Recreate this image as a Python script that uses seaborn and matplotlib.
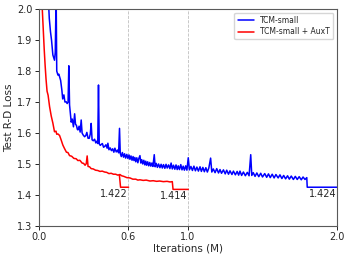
import numpy as np
import pandas as pd
import seaborn as sns
import matplotlib
matplotlib.use("Agg")
import matplotlib.pyplot as plt

# TCM-small (blue)
blue_x = [0.065, 0.070, 0.078, 0.085, 0.094, 0.105, 0.110, 0.116, 0.120, 0.128,
          0.134, 0.139, 0.146, 0.154, 0.160, 0.168, 0.175, 0.183, 0.190, 0.196,
          0.201, 0.206, 0.212, 0.217, 0.224, 0.232, 0.240, 0.246, 0.252, 0.258,
          0.262, 0.270, 0.277, 0.284, 0.290, 0.298, 0.307, 0.315, 0.322, 0.330,
          0.338, 0.345, 0.351, 0.357, 0.365, 0.374, 0.382, 0.390, 0.395, 0.400,
          0.405, 0.412, 0.418, 0.426, 0.434, 0.442, 0.450, 0.458, 0.463, 0.470,
          0.478, 0.487, 0.495, 0.503, 0.510, 0.519, 0.528, 0.535, 0.541, 0.546,
          0.553, 0.560, 0.568, 0.575, 0.582, 0.590, 0.597, 0.605, 0.611, 0.618,
          0.625, 0.632, 0.638, 0.644, 0.650, 0.657, 0.664, 0.670, 0.678, 0.684,
          0.690, 0.697, 0.704, 0.711, 0.717, 0.723, 0.730, 0.737, 0.744, 0.751,
          0.758, 0.765, 0.774, 0.780, 0.787, 0.795, 0.803, 0.812, 0.820, 0.828,
          0.836, 0.845, 0.853, 0.861, 0.870, 0.879, 0.887, 0.895, 0.903, 0.912,
          0.920, 0.928, 0.935, 0.943, 0.952, 0.960, 0.968, 0.976, 0.985, 0.993,
          1.002, 1.010, 1.020, 1.030, 1.040, 1.050, 1.060, 1.070, 1.081, 1.090,
          1.100, 1.110, 1.120, 1.130, 1.140, 1.152, 1.160, 1.170, 1.182, 1.193,
          1.205, 1.215, 1.225, 1.238, 1.250, 1.260, 1.272, 1.282, 1.295, 1.305,
          1.318, 1.330, 1.340, 1.349, 1.360, 1.372, 1.385, 1.398, 1.410, 1.421,
          1.428, 1.438, 1.450, 1.462, 1.475, 1.488, 1.500, 1.515, 1.528, 1.540,
          1.552, 1.565, 1.578, 1.590, 1.605, 1.617, 1.630, 1.642, 1.655, 1.668,
          1.680, 1.693, 1.707, 1.720, 1.733, 1.746, 1.760, 1.772, 1.785, 1.797,
          1.800, 2.000]
blue_y = [2.020, 1.970, 1.927, 1.900, 1.852, 1.835, 1.860, 2.050, 1.800, 1.787,
          1.790, 1.782, 1.770, 1.740, 1.710, 1.723, 1.700, 1.701, 1.695, 1.700,
          1.817, 1.690, 1.660, 1.635, 1.645, 1.620, 1.662, 1.628, 1.625, 1.612,
          1.610, 1.622, 1.603, 1.642, 1.600, 1.593, 1.588, 1.592, 1.602, 1.583,
          1.583, 1.597, 1.631, 1.578, 1.575, 1.580, 1.568, 1.574, 1.566, 1.755,
          1.565, 1.560, 1.563, 1.566, 1.554, 1.557, 1.562, 1.551, 1.567, 1.546,
          1.552, 1.543, 1.549, 1.538, 1.551, 1.539, 1.545, 1.536, 1.615, 1.534,
          1.524, 1.537, 1.522, 1.533, 1.519, 1.531, 1.518, 1.529, 1.515, 1.526,
          1.512, 1.524, 1.511, 1.521, 1.507, 1.520, 1.504, 1.517, 1.527, 1.503,
          1.514, 1.500, 1.512, 1.497, 1.509, 1.496, 1.507, 1.494, 1.505, 1.493,
          1.503, 1.492, 1.530, 1.491, 1.502, 1.489, 1.500, 1.488, 1.499, 1.487,
          1.498, 1.486, 1.499, 1.487, 1.497, 1.485, 1.503, 1.484, 1.496, 1.483,
          1.497, 1.482, 1.494, 1.482, 1.498, 1.481, 1.493, 1.480, 1.494, 1.480,
          1.520, 1.481, 1.492, 1.479, 1.493, 1.478, 1.490, 1.477, 1.491, 1.476,
          1.489, 1.475, 1.488, 1.474, 1.487, 1.519, 1.474, 1.484, 1.472, 1.485,
          1.471, 1.482, 1.470, 1.481, 1.468, 1.480, 1.467, 1.478, 1.466, 1.477,
          1.465, 1.476, 1.464, 1.477, 1.463, 1.474, 1.462, 1.473, 1.462, 1.530,
          1.463, 1.472, 1.460, 1.471, 1.459, 1.470, 1.458, 1.469, 1.457, 1.468,
          1.456, 1.467, 1.455, 1.466, 1.455, 1.465, 1.453, 1.463, 1.452, 1.462,
          1.451, 1.461, 1.450, 1.460, 1.450, 1.459, 1.449, 1.458, 1.450, 1.456,
          1.425, 1.425]

# TCM-small + AuxT (red)
red_x = [0.020, 0.030, 0.036, 0.042, 0.048, 0.055, 0.062, 0.072, 0.083, 0.094,
         0.105, 0.115, 0.120, 0.128, 0.139, 0.150, 0.161, 0.172, 0.185, 0.195,
         0.206, 0.220, 0.235, 0.250, 0.262, 0.275, 0.290, 0.300, 0.310, 0.318,
         0.324, 0.330, 0.340, 0.351, 0.365, 0.380, 0.395, 0.410, 0.425, 0.441,
         0.455, 0.470, 0.485, 0.500, 0.515, 0.530, 0.544, 0.555, 0.570, 0.590,
         0.611, 0.630, 0.650, 0.664, 0.678, 0.700, 0.720, 0.745, 0.767, 0.790,
         0.810, 0.835, 0.860, 0.880, 0.895, 0.900, 1.002]
red_y = [2.030, 1.930, 1.870, 1.819, 1.775, 1.735, 1.722, 1.685, 1.655, 1.632,
         1.604, 1.606, 1.596, 1.597, 1.592, 1.577, 1.561, 1.550, 1.538, 1.537,
         1.527, 1.525, 1.518, 1.517, 1.511, 1.512, 1.503, 1.502, 1.496, 1.501,
         1.526, 1.492, 1.491, 1.485, 1.484, 1.480, 1.479, 1.476, 1.477, 1.474,
         1.473, 1.469, 1.470, 1.467, 1.467, 1.464, 1.466, 1.462, 1.460, 1.456,
         1.455, 1.451, 1.451, 1.448, 1.449, 1.447, 1.448, 1.445, 1.446, 1.444,
         1.445, 1.443, 1.444, 1.442, 1.443, 1.418, 1.418]

# short red branch that stops at 0.6M
branch_x = [0.540, 0.548, 0.602]
branch_y = [1.465, 1.425, 1.425]

finals = [(0.602, 1.425, "1.422"), (1.002, 1.418, "1.414"), (2.0, 1.425, "1.424")]

sns.set_style("ticks")
fig, ax = plt.subplots(figsize=(3.5, 2.6), dpi=100)
fig.subplots_adjust(left=0.111, right=0.963, top=0.965, bottom=0.131)

for xv in [0.6, 1.0]:
    ax.axvline(xv, color="0.75", ls="--", lw=0.6, zorder=0)

sns.lineplot(x=blue_x, y=blue_y, ax=ax, color="blue", lw=1.1, sort=False,
             estimator=None, label="TCM-small")
sns.lineplot(x=red_x, y=red_y, ax=ax, color="red", lw=1.1, sort=False,
             estimator=None, label="TCM-small + AuxT")
sns.lineplot(x=branch_x, y=branch_y, ax=ax, color="red", lw=1.1, sort=False,
             estimator=None)

for xe, ye, txt in finals:
    ax.text(xe - 0.005, ye - 0.006, txt, ha="right", va="top", fontsize=7)

ax.set_xlim(0, 2.0)
ax.set_ylim(1.3, 2.0)
ax.set_xticks([0.0, 0.6, 1.0, 2.0])
ax.set_yticks([1.3, 1.4, 1.5, 1.6, 1.7, 1.8, 1.9, 2.0])
ax.tick_params(labelsize=7, length=3, width=0.7, pad=1.5)
ax.set_xlabel("Iterations (M)", fontsize=7.5, labelpad=1)
ax.set_ylabel("Test R-D Loss", fontsize=7.5, labelpad=2)
for s in ax.spines.values():
    s.set_color("0.35")
    s.set_linewidth(0.8)

ax.legend(loc="upper right", fontsize=5.5, handlelength=2.2, frameon=True,
          borderpad=0.4, labelspacing=0.3)

fig.savefig("out.png", dpi=100)
